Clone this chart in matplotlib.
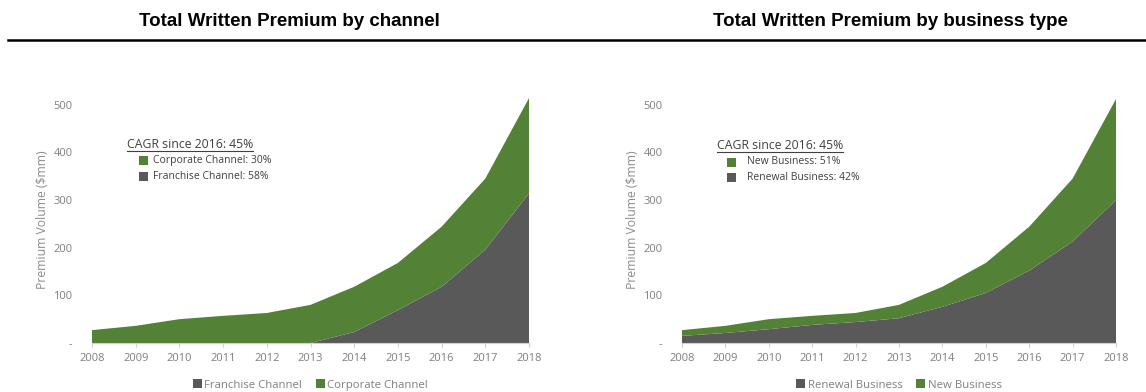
import matplotlib
matplotlib.use("Agg")
import matplotlib.pyplot as plt
from matplotlib.patches import Patch
from matplotlib.lines import Line2D

years = [2008, 2009, 2010, 2011, 2012, 2013, 2014, 2015, 2016, 2017, 2018]

# Chart 1: by channel ($mm)
franchise = [0, 0, 0, 0, 0, 0, 23, 69, 118, 196, 314]
corporate = [27, 36, 50, 57, 63, 80, 95, 99, 126, 149, 200]

# Chart 2: by business type ($mm)
renewal = [15, 21, 29, 38, 44, 52, 76, 105, 152, 213, 300]
new_business = [12, 15, 21, 19, 19, 28, 42, 63, 92, 132, 212]

yticks = [0, 100, 200, 300, 400, 500]
ytick_labels = ["-", "100", "200", "300", "400", "500"]

titles = ["Total Written Premium by channel", "Total Written Premium by business type"]
cagr_title = "CAGR since 2016: 45%"
inner_labels = [["Corporate Channel: 30%", "Franchise Channel: 58%"],
                ["New Business: 51%", "Renewal Business: 42%"]]
bottom_labels = [["Franchise Channel", "Corporate Channel"],
                 ["Renewal Business", "New Business"]]
ylabel = "Premium Volume ($mm)"

GREEN = "#538135"
GRAY = "#595959"
TXT = "#7f7f7f"
FONT = "Open Sans"

W, H = 1146, 392
fig = plt.figure(figsize=(W / 100, H / 100), dpi=100)

def fx(px):
    return px / W

def fy(py):
    return 1 - py / H

ymax = 520
base_px = 343
top_px = 343 - ymax * 0.4765

axes_px = [(92, 529), (682, 1116)]
ylabel_x = [49, 639]
series = [(franchise, corporate), (renewal, new_business)]

for i, ((x0, x1), (lower, upper)) in enumerate(zip(axes_px, series)):
    ax = fig.add_axes([fx(x0), fy(base_px), fx(x1) - fx(x0), fy(top_px) - fy(base_px)])
    ax.stackplot(years, lower, upper, colors=[GRAY, GREEN], linewidth=0)
    ax.set_xlim(years[0], years[-1])
    ax.set_ylim(0, ymax)
    ax.set_xticks(years)
    ax.set_xticklabels([str(y) for y in years], fontsize=8, color=TXT, family=FONT)
    ax.set_yticks(yticks)
    ax.set_yticklabels(ytick_labels, fontsize=8, color=TXT, family=FONT)
    ax.tick_params(axis="y", length=0, pad=14)
    ax.tick_params(axis="x", length=3, color="#d0d0d0", pad=4)
    for s in ["top", "right", "left"]:
        ax.spines[s].set_visible(False)
    ax.spines["bottom"].set_color("#d0d0d0")
    ax.spines["bottom"].set_linewidth(0.8)
    ax.set_ylabel(ylabel, fontsize=8.8, color="#8c8c8c", family=FONT)
    ax.yaxis.set_label_coords(fx(ylabel_x[i]), fy(220), transform=fig.transFigure)

    # bottom legend
    handles = [Patch(facecolor=GRAY, edgecolor="none"), Patch(facecolor=GREEN, edgecolor="none")]
    ax.legend(handles, bottom_labels[i], ncol=2, frameon=False, loc="center",
              bbox_to_anchor=(fx((x0 + x1) / 2), fy(385)), bbox_transform=fig.transFigure,
              prop={"family": FONT, "size": 8.2}, labelcolor=TXT,
              handlelength=0.8, handleheight=0.8, handletextpad=0.2, columnspacing=1.2,
              borderpad=0, borderaxespad=0)

# titles
fig.text(fx(289), fy(21), titles[0], ha="center", va="center", fontsize=13.5,
         fontweight="bold", family="Liberation Sans")
fig.text(fx(890), fy(21), titles[1], ha="center", va="center", fontsize=13.5,
         fontweight="bold", family="Liberation Sans")
fig.add_artist(Line2D([fx(8), fx(1146)], [fy(40), fy(40)], color="black", lw=1.8))

# inner CAGR annotations
cagr_pos = [(127, 144, 139, 153), (717, 145, 727, 747)]
fig.canvas.draw()
renderer = fig.canvas.get_renderer()
for i, (tx, ty, sqx, lx) in enumerate(cagr_pos):
    t = fig.text(fx(tx), fy(ty), cagr_title, ha="left", va="center", fontsize=8.8,
                 color="#404040", family=FONT)
    bb = t.get_window_extent(renderer)
    fig.add_artist(Line2D([bb.x0 / W, bb.x1 / W], [fy(ty + 7), fy(ty + 7)],
                          color="#404040", lw=0.8))
    cols = [GREEN, GRAY]
    for j, lab in enumerate(inner_labels[i]):
        yy = ty + 17 + j * 15.5
        fig.patches.append(plt.Rectangle((fx(sqx), fy(yy + 4.5)), fx(9), 9 / H,
                                         transform=fig.transFigure, facecolor=cols[j],
                                         edgecolor="none"))
        fig.text(fx(lx), fy(yy), lab, ha="left", va="center", fontsize=7.5,
                 color="#404040", family=FONT)

fig.savefig("out.png", dpi=100)
